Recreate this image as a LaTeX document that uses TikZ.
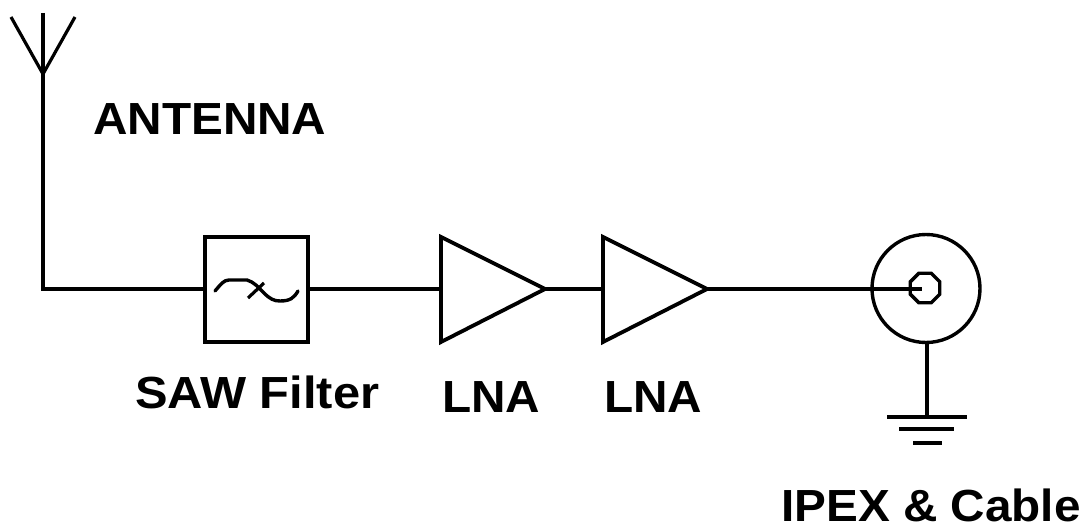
\documentclass[tikz,border=0pt]{standalone}
\usepackage{fontspec}
\setmainfont[FakeStretch=1.06]{Liberation Sans}
\newfontfamily\widefont[FakeStretch=1.085]{Liberation Sans}
\usetikzlibrary{shapes.geometric}
\tikzset{
  wire/.style={line width=3.8pt,black,line cap=butt},
  thin wire/.style={line width=3.2pt,black},
  lbl/.style={inner sep=0pt,font=\fontsize{45}{45}\selectfont\bfseries,anchor=base west},
  filterbox/.style={draw,line width=4pt,minimum width=103pt,minimum height=105pt,inner sep=0pt},
}
\begin{document}
\begin{tikzpicture}[x=1pt,y=-1pt]
\useasboundingbox[fill=white] (0,0) rectangle (1088,527);
% antenna
\coordinate (tip) at (43,13);
\coordinate (fork) at (43,74);
\coordinate (armL) at (11,17);
\coordinate (armR) at (75,17);
\coordinate (corner) at (43,289);
\draw[thin wire] (armL) -- (fork) -- (armR);
% filter
\node[filterbox] (saw) at (256,289) {};
\draw[line width=3.4pt,line cap=round] (215,291) .. controls (221,284) and (224,280) .. (229,280) -- (247,280) .. controls (254,282) and (258,287) .. (264,293) .. controls (270,299) and (274,301) .. (280,301) .. controls (290,301) and (294,298) .. (298,291);
\draw[line width=3.2pt] (248,298) -- (264,283);
% LNA
\coordinate (a1) at (441,237);
\coordinate (a2) at (441,342);
\coordinate (a3) at (545,289);
\coordinate (a4) at (441,289);
\coordinate (b1) at (603,237);
\coordinate (b2) at (603,342);
\coordinate (b3) at (707,289);
\coordinate (b4) at (603,289);
\draw[wire,line join=miter] (a1) -- (a2) -- (a3) -- cycle;
\draw[wire,line join=miter] (b1) -- (b2) -- (b3) -- cycle;
% connector
\node[circle,draw,line width=3.4pt,minimum size=108pt,inner sep=0pt] (outer) at (926,288.5) {};
\node[regular polygon,regular polygon sides=8,draw,line width=3.4pt,minimum size=32pt,inner sep=0pt] (inner) at (925,288) {};
\coordinate (pin) at (922,289);
\coordinate (gnd) at (927,417);
\coordinate (g1l) at (887,417);
\coordinate (g1r) at (967,417);
\coordinate (g2l) at (899,429);
\coordinate (g2r) at (954,429);
\coordinate (g3l) at (913,443);
\coordinate (g3r) at (942,443);
% wires
\draw[wire,line join=miter] (tip) -- (corner) -- (saw.west);
\draw[wire] (saw.east) -- (a4);
\draw[wire] (a3) -- (b4);
\draw[wire] (b3) -- (pin);
\draw[wire] (outer.south -| gnd) -- (gnd);
\draw[wire] (g1l) -- (g1r);
\draw[wire] (g2l) -- (g2r);
\draw[wire] (g3l) -- (g3r);
% labels
\node[lbl] (lant) at (93,135) {ANTENNA};
\node[lbl] (lsaw) at (135,408) {\widefont\bfseries SAW Filter};
\node[lbl] (llna1) at (442,412) {LNA};
\node[lbl] (llna2) at (604,412) {LNA};
\node[lbl] (lipex) at (781,521.5) {IPEX \& Cable};
\end{tikzpicture}
\end{document}
